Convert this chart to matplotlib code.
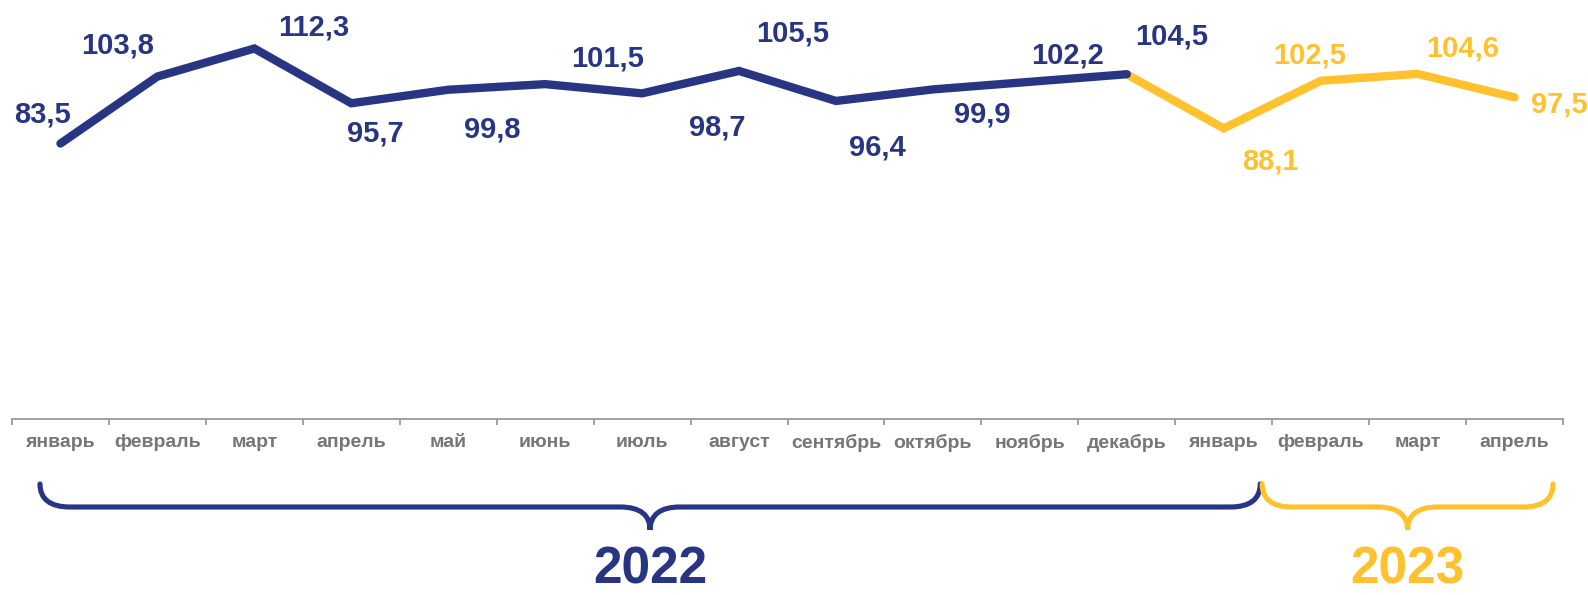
import matplotlib
matplotlib.use("Agg")
import matplotlib.pyplot as plt
import matplotlib.transforms as mtransforms
from matplotlib.path import Path
from matplotlib.patches import PathPatch
import numpy as np

plt.rcParams['font.family'] = ['Liberation Sans', 'DejaVu Sans']

months = ['январь', 'февраль', 'март', 'апрель', 'май', 'июнь', 'июль', 'август',
          'сентябрь', 'октябрь', 'ноябрь', 'декабрь',
          'январь', 'февраль', 'март', 'апрель']
values = [83.5, 103.8, 112.3, 95.7, 99.8, 101.5, 98.7, 105.5,
          96.4, 99.9, 102.2, 104.5,
          88.1, 102.5, 104.6, 97.5]
years = ['2022', '2023']
split = 12  # index where the 2023 part starts

NAVY = '#283583'
YELLOW = '#FFC12E'
GRAY_TXT = '#767676'
GRAY_AX = '#9a9a9a'

# label offsets in image pixels (dx right, dy down) from each point
label_off = [(-18, -31), (-40, -33), (59, -23), (24, 28), (44, 38), (62, -28),
             (75, 32), (54, -39), (41, 45), (49, 23), (38, -28), (45, -40),
             (47, 31), (-11, -27), (45, -27), (45, 5)]

W, H = 1588, 595
fig = plt.figure(figsize=(W / 100, H / 100), dpi=100)
ax = fig.add_axes([12 / W, 176 / H, 1551 / W, 419 / H])

x = np.arange(len(months))
ax.plot(x[split - 1:], values[split - 1:], color=YELLOW, lw=6,
        solid_capstyle='round', solid_joinstyle='miter', zorder=2)
ax.plot(x[:split], values[:split], color=NAVY, lw=6,
        solid_capstyle='round', solid_joinstyle='miter', zorder=3)

for i, v in enumerate(values):
    col = NAVY if i < split else YELLOW
    dx, dy = label_off[i]
    ax.annotate(f'{v:.1f}'.replace('.', ','), (x[i], v),
                xytext=(dx, -(dy + 10)), textcoords='offset pixels',
                ha='center', va='baseline', fontsize=21, fontweight='bold',
                color=col, annotation_clip=False)

ax.set_xlim(-0.5, len(months) - 0.5)
ax.set_ylim(0, 127)
for s in ['left', 'right', 'top']:
    ax.spines[s].set_visible(False)
ax.spines['bottom'].set_color(GRAY_AX)
ax.spines['bottom'].set_linewidth(1.3)
ax.set_yticks([])
ax.set_xticks(x)
ax.set_xticklabels(months, fontsize=14, fontweight='bold', color=GRAY_TXT)
ax.set_xticks(np.arange(-0.5, len(months)), minor=True)
ax.tick_params(axis='x', which='major', length=0, pad=11)
ax.tick_params(axis='x', which='minor', length=4, width=1.3, color=GRAY_AX,
               direction='out')

# braces below the axis: x in data units, y in axes fraction
trans = mtransforms.blended_transform_factory(ax.transData, ax.transAxes)
px = 1 / 96.9          # one image pixel in data units along x
py = 1 / 419           # one image pixel in axes units along y


def brace(x0, x1, color):
    ytop = (419 - 484) * py
    ymid = (419 - 507) * py
    ytip = (419 - 530) * py
    xm = (x0 + x1) / 2
    r = 30 * px
    verts = [(x0, ytop),
             (x0, ymid + 8 * py), (x0 + 10 * px, ymid), (x0 + r, ymid),
             (xm - r, ymid),
             (xm - 10 * px, ymid), (xm, ymid - 8 * py), (xm, ytip),
             (xm, ymid - 8 * py), (xm + 10 * px, ymid), (xm + r, ymid),
             (x1 - r, ymid),
             (x1 - 10 * px, ymid), (x1, ymid + 8 * py), (x1, ytop)]
    codes = [Path.MOVETO,
             Path.CURVE4, Path.CURVE4, Path.CURVE4,
             Path.LINETO,
             Path.CURVE4, Path.CURVE4, Path.CURVE4,
             Path.CURVE4, Path.CURVE4, Path.CURVE4,
             Path.LINETO,
             Path.CURVE4, Path.CURVE4, Path.CURVE4]
    patch = PathPatch(Path(verts, codes), transform=trans, fill=False,
                      edgecolor=color, lw=3.7, capstyle='round', clip_on=False)
    ax.add_patch(patch)
    return xm


xm1 = brace(-0.5 + 28 * px, split + 0.5 - 12 * px, NAVY)
xm2 = brace(split + 0.5 - 10 * px, len(months) - 0.5 - 10 * px, YELLOW)

ax.text(xm1, (419 - 584) * py, years[0], transform=trans, ha='center',
        va='baseline', fontsize=37, fontweight='bold', color=NAVY)
ax.text(xm2, (419 - 584) * py, years[1], transform=trans, ha='center',
        va='baseline', fontsize=37, fontweight='bold', color=YELLOW)

fig.savefig('out.png', dpi=100)
